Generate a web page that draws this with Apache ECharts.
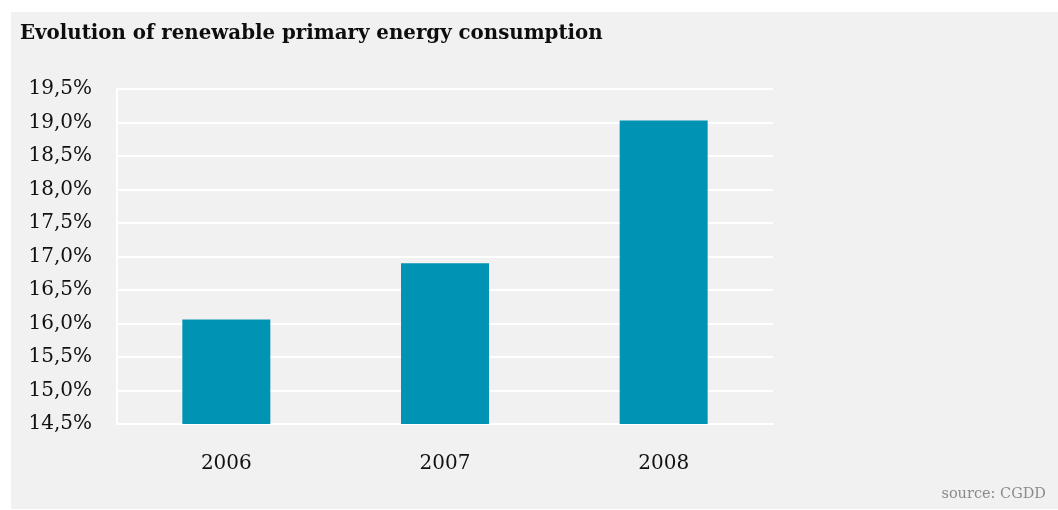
<!DOCTYPE html>
<html>
<head>
<meta charset="utf-8">
<script src="https://cdn.jsdelivr.net/npm/echarts@6/dist/echarts.min.js"></script>
<style>
  html, body { margin: 0; padding: 0; background: #ffffff; }
  #chart { width: 1058px; height: 510px; }
</style>
</head>
<body>
<div id="chart"></div>
<script>
// Share of renewables in primary energy consumption (%)
const years = ['2006', '2007', '2008'];
const renewableShare = [16.06, 16.90, 19.03];
const yMin = 14.5;
const yMax = 19.5;
const yStep = 0.5;

const serif = '"DejaVu Serif", "Liberation Serif", serif';

const chart = echarts.init(document.getElementById('chart'), null, { renderer: 'canvas' });

chart.setOption({
  backgroundColor: '#ffffff',
  animation: false,
  graphic: [
    {
      type: 'rect',
      left: 11, top: 12,
      shape: { width: 1047, height: 497 },
      style: { fill: '#f1f1f1' },
      z: -10
    },
    {
      type: 'text',
      right: 12, top: 487,
      style: { text: 'source: CGDD', fill: '#8a8a8a', font: '14.5px ' + serif }
    }
  ],
  title: {
    text: 'Evolution of renewable primary energy consumption',
    left: 15, top: 19,
    textStyle: { fontFamily: serif, fontWeight: 'bold', fontSize: 19.8, color: '#0d0d0d' }
  },
  grid: { left: 117, right: 285, top: 89, bottom: 86, containLabel: false },
  xAxis: {
    type: 'category',
    data: years,
    axisLine: { show: true, lineStyle: { color: '#ffffff', width: 2 } },
    axisTick: { show: false },
    axisLabel: { margin: 30, fontFamily: serif, fontSize: 20, color: '#111111' }
  },
  yAxis: {
    type: 'value',
    min: yMin, max: yMax, interval: yStep,
    axisLine: { show: true, lineStyle: { color: '#ffffff', width: 2 } },
    axisTick: { show: false },
    splitLine: { show: true, lineStyle: { color: '#ffffff', width: 2 } },
    axisLabel: {
      margin: 25,
      fontFamily: serif, fontSize: 20, color: '#111111',
      formatter: v => v.toFixed(1).replace('.', ',') + '%'
    }
  },
  series: [{
    type: 'bar',
    data: renewableShare,
    barWidth: 88,
    itemStyle: { color: '#0093b3' }
  }]
});
</script>
</body>
</html>
